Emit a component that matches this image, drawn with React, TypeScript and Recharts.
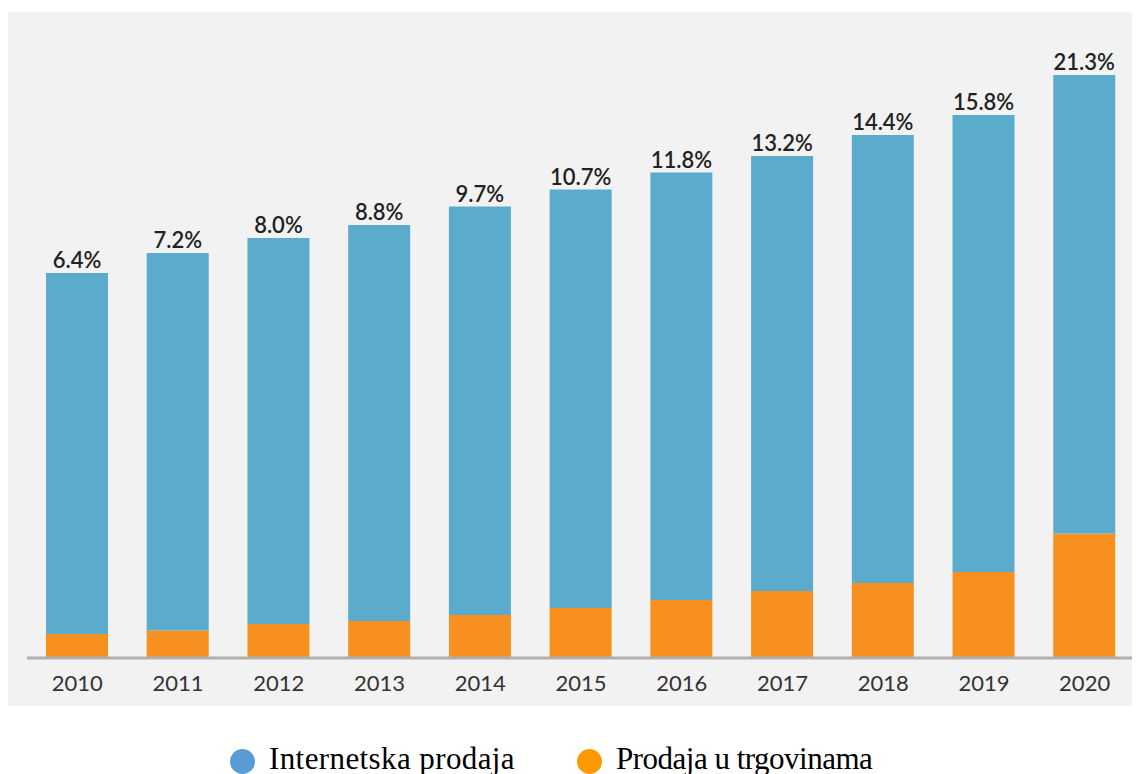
import { Bar, BarChart, LabelList, Legend, XAxis, YAxis } from "recharts";

const years = ["2010", "2011", "2012", "2013", "2014", "2015", "2016", "2017", "2018", "2019", "2020"];
const totalSales = [385, 405, 420, 433, 451.5, 468.5, 485.5, 502, 523, 543, 583];
const onlineSales = [24, 27.5, 34, 37, 43, 50, 58, 67, 75, 86, 124.5];
const shareLabels = ["6.4%", "7.2%", "8.0%", "8.8%", "9.7%", "10.7%", "11.8%", "13.2%", "14.4%", "15.8%", "21.3%"];

const data = years.map((year, i) => ({
  year,
  online: onlineSales[i],
  rest: totalSales[i] - onlineSales[i],
  share: shareLabels[i],
}));

const legendItems = [
  { label: "Internetska prodaja", color: "#5b9bd5", left: 222, spacing: 0.4 },
  { label: "Prodaja u trgovinama", color: "#ff9900", left: 569, spacing: -0.5 },
];

function ChartLegend() {
  return (
    <div style={{ position: "relative", width: 1132, height: 86 }}>
      {legendItems.map((item) => (
        <div
          key={item.label}
          style={{
            position: "absolute",
            left: item.left,
            top: 55,
            display: "flex",
            alignItems: "center",
            fontFamily: "'Liberation Serif', 'Times New Roman', serif",
            fontSize: 31,
            letterSpacing: item.spacing,
            color: "#000",
            lineHeight: "32px",
            whiteSpace: "nowrap",
          }}
        >
          <span
            style={{
              display: "inline-block",
              width: 25,
              height: 25,
              borderRadius: "50%",
              background: item.color,
              marginRight: 14,
              marginTop: 4,
            }}
          />
          {item.label}
        </div>
      ))}
    </div>
  );
}

export default function App() {
  return (
    <div style={{ position: "relative", width: 1132, height: 766 }}>
      <div
        style={{
          position: "absolute",
          left: 0,
          top: 4,
          width: 1132,
          height: 694,
          background: "#f2f2f2",
        }}
      />
      <BarChart
        width={1132}
        height={766}
        data={data}
        margin={{ top: 50, right: 5, bottom: 0, left: 19 }}
        barSize={62}
        style={{ position: "relative" }}
      >
        <XAxis
          dataKey="year"
          tickLine={false}
          axisLine={{ stroke: "#b0b0b0", strokeWidth: 3 }}
          tickMargin={11}
          tick={{ fill: "#333", fontSize: 22, fontFamily: "Lato, sans-serif" }}
          height={30}
        />
        <YAxis hide domain={[0, 600]} />
        <Legend
          verticalAlign="bottom"
          content={() => <ChartLegend />}
          wrapperStyle={{ left: 0, width: 1132 }}
        />
        <Bar dataKey="online" stackId="a" fill="#f7901e" isAnimationActive={false} />
        <Bar dataKey="rest" stackId="a" fill="#5babcd" isAnimationActive={false}>
          <LabelList
            dataKey="share"
            position="top"
            offset={5}
            fill="#222"
            fontSize={22}
            fontWeight={600}
            fontFamily="Lato, sans-serif"
          />
        </Bar>
      </BarChart>
    </div>
  );
}
